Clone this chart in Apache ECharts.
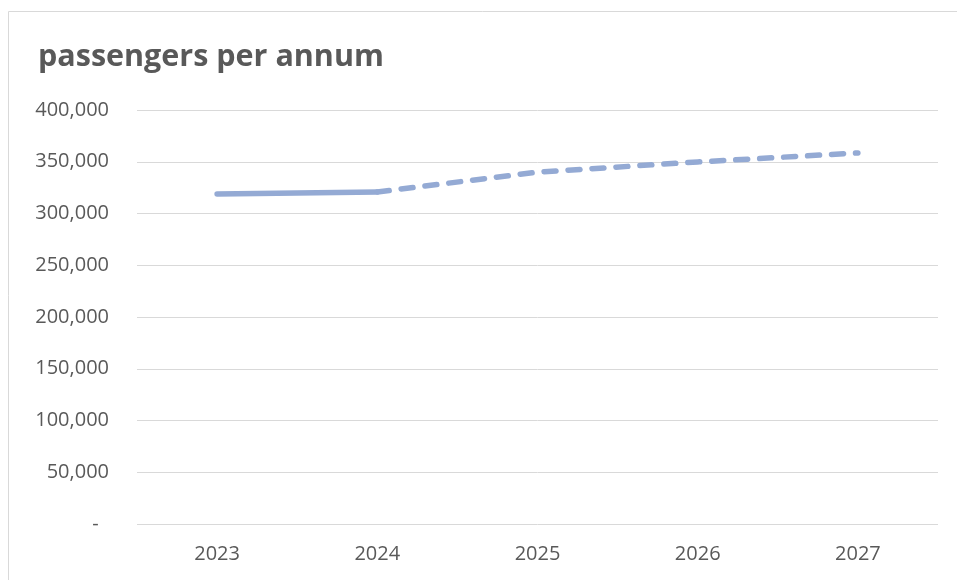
<!DOCTYPE html>
<html>
<head>
<meta charset="utf-8">
<script src="https://cdn.jsdelivr.net/npm/echarts@6/dist/echarts.min.js"></script>
<style>
  html, body { margin: 0; padding: 0; background: #fff; }
  #chart { width: 957px; height: 580px; }
</style>
</head>
<body>
<div id="chart"></div>
<script>
var years = ['2023', '2024', '2025', '2026', '2027'];
// actual figures (solid) and forecast (dashed)
var actual = [318800, 320800, null, null, null];
var forecast = [null, 320800, 340000, 349800, 358500];

var lineColor = '#94aad4';
var textColor = '#595959';

var chart = echarts.init(document.getElementById('chart'));

chart.setOption({
    animation: false,
    title: {
        text: 'passengers per annum',
        left: 33,
        top: 37,
        textStyle: {
            fontFamily: 'Open Sans',
            fontWeight: 'bold',
            fontSize: 30.5,
            color: textColor
        }
    },
    graphic: [
        { type: 'line', shape: { x1: 8.5, y1: 11.5, x2: 957, y2: 11.5 }, style: { stroke: '#d9d9d9', lineWidth: 1 } },
        { type: 'line', shape: { x1: 8.5, y1: 11.5, x2: 8.5, y2: 580 }, style: { stroke: '#d9d9d9', lineWidth: 1 } }
    ],
    grid: { left: 137, right: 19, top: 110, bottom: 56 },
    xAxis: {
        type: 'category',
        data: years,
        boundaryGap: true,
        axisLine: { show: false },
        axisTick: { show: false },
        axisLabel: { color: textColor, fontSize: 20, fontFamily: 'Open Sans', margin: 20 }
    },
    yAxis: {
        type: 'value',
        min: 0,
        max: 400000,
        interval: 50000,
        axisLine: { show: false },
        axisTick: { show: false },
        splitLine: { lineStyle: { color: '#d9d9d9', width: 1 } },
        axisLabel: {
            color: textColor,
            fontSize: 20,
            fontFamily: 'Open Sans',
            margin: 28,
            formatter: function (v) {
                if (v === 0) return '-\u00a0\u00a0';
                return v.toString().replace(/\B(?=(\d{3})+(?!\d))/g, ',');
            }
        }
    },
    series: [
        {
            type: 'line',
            data: actual,
            symbol: 'none',
            lineStyle: { color: lineColor, width: 5.5, cap: 'round' }
        },
        {
            type: 'line',
            data: forecast,
            symbol: 'none',
            lineStyle: { color: lineColor, width: 5.5, type: [12, 12], cap: 'round' }
        }
    ]
});
</script>
</body>
</html>
